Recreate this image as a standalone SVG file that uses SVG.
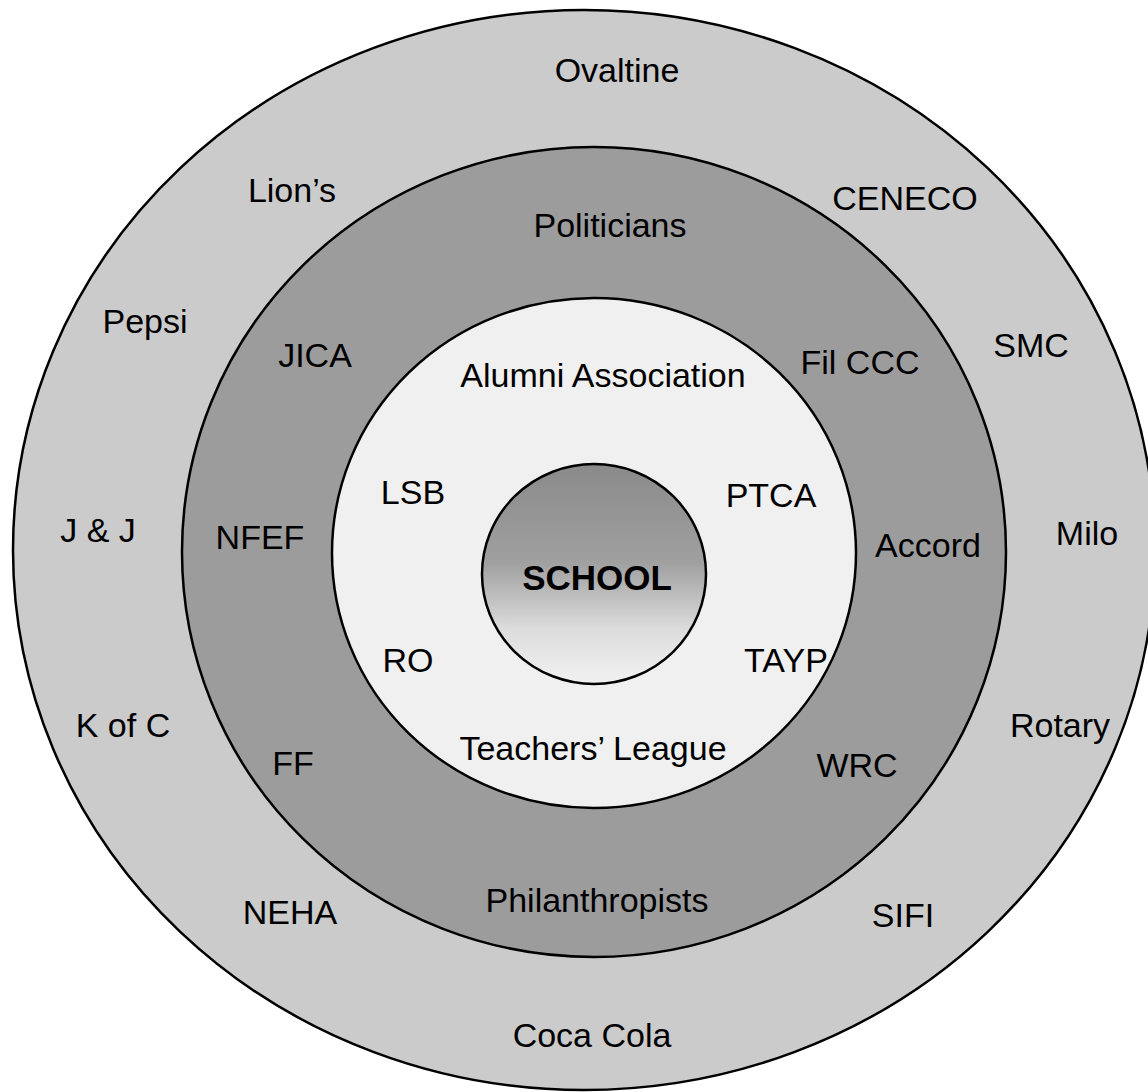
<svg xmlns="http://www.w3.org/2000/svg" width="1148" height="1092" viewBox="0 0 1148 1092">
  <defs>
    <linearGradient id="schoolFill" x1="0" y1="0" x2="0" y2="1">
      <stop offset="0" stop-color="#8a8a8a"/>
      <stop offset="0.45" stop-color="#a0a0a0"/>
      <stop offset="0.75" stop-color="#dcdcdc"/>
      <stop offset="1" stop-color="#f2f2f2"/>
    </linearGradient>
  </defs>
  <style>
    .ring { stroke: #000; stroke-width: 2.5; }
    .lbl { font-family: "Liberation Sans", Arial, sans-serif; font-size: 34px; fill: #000; text-anchor: middle; }
    .bold { font-weight: bold; font-size: 35px; }
  </style>
  <rect width="1148" height="1092" fill="#ffffff"/>

  <g id="ring-outer">
    <ellipse class="ring" cx="584" cy="550" rx="571" ry="540" fill="#cbcbcb"/>
  </g>
  <g id="ring-middle">
    <ellipse class="ring" cx="594" cy="552" rx="412" ry="405" fill="#9c9c9c"/>
  </g>
  <g id="ring-inner">
    <ellipse class="ring" cx="594" cy="553" rx="262" ry="255" fill="#f0f0f0"/>
  </g>
  <g id="school">
    <ellipse class="ring" cx="594" cy="574" rx="112" ry="110" fill="url(#schoolFill)"/>
    <text class="lbl bold" x="597" y="590">SCHOOL</text>
  </g>

  <g id="outer-labels">
    <g id="n-ovaltine"><text class="lbl" x="617" y="82">Ovaltine</text></g>
    <g id="n-lions"><text class="lbl" x="292" y="202">Lion’s</text></g>
    <g id="n-ceneco"><text class="lbl" x="905" y="210">CENECO</text></g>
    <g id="n-pepsi"><text class="lbl" x="145" y="333">Pepsi</text></g>
    <g id="n-smc"><text class="lbl" x="1031" y="357">SMC</text></g>
    <g id="n-jj"><text class="lbl" x="98" y="542">J &amp; J</text></g>
    <g id="n-milo"><text class="lbl" x="1087" y="545">Milo</text></g>
    <g id="n-kofc"><text class="lbl" x="123" y="737">K of C</text></g>
    <g id="n-rotary"><text class="lbl" x="1060" y="737">Rotary</text></g>
    <g id="n-neha"><text class="lbl" x="290" y="924">NEHA</text></g>
    <g id="n-sifi"><text class="lbl" x="903" y="927">SIFI</text></g>
    <g id="n-cocacola"><text class="lbl" x="592" y="1047">Coca Cola</text></g>
  </g>

  <g id="middle-labels">
    <g id="n-politicians"><text class="lbl" x="610" y="237">Politicians</text></g>
    <g id="n-jica"><text class="lbl" x="315" y="367">JICA</text></g>
    <g id="n-filccc"><text class="lbl" x="860" y="374">Fil CCC</text></g>
    <g id="n-nfef"><text class="lbl" x="260" y="549">NFEF</text></g>
    <g id="n-accord"><text class="lbl" x="928" y="557">Accord</text></g>
    <g id="n-ff"><text class="lbl" x="293" y="775">FF</text></g>
    <g id="n-wrc"><text class="lbl" x="857" y="777">WRC</text></g>
    <g id="n-philanthropists"><text class="lbl" x="597" y="912">Philanthropists</text></g>
  </g>

  <g id="inner-labels">
    <g id="n-alumni"><text class="lbl" x="603" y="387">Alumni Association</text></g>
    <g id="n-lsb"><text class="lbl" x="413" y="504">LSB</text></g>
    <g id="n-ptca"><text class="lbl" x="771" y="507">PTCA</text></g>
    <g id="n-ro"><text class="lbl" x="408" y="672">RO</text></g>
    <g id="n-tayp"><text class="lbl" x="786" y="672">TAYP</text></g>
    <g id="n-teachers"><text class="lbl" x="593" y="760">Teachers’ League</text></g>
  </g>

  <g id="connectors"/>
</svg>
